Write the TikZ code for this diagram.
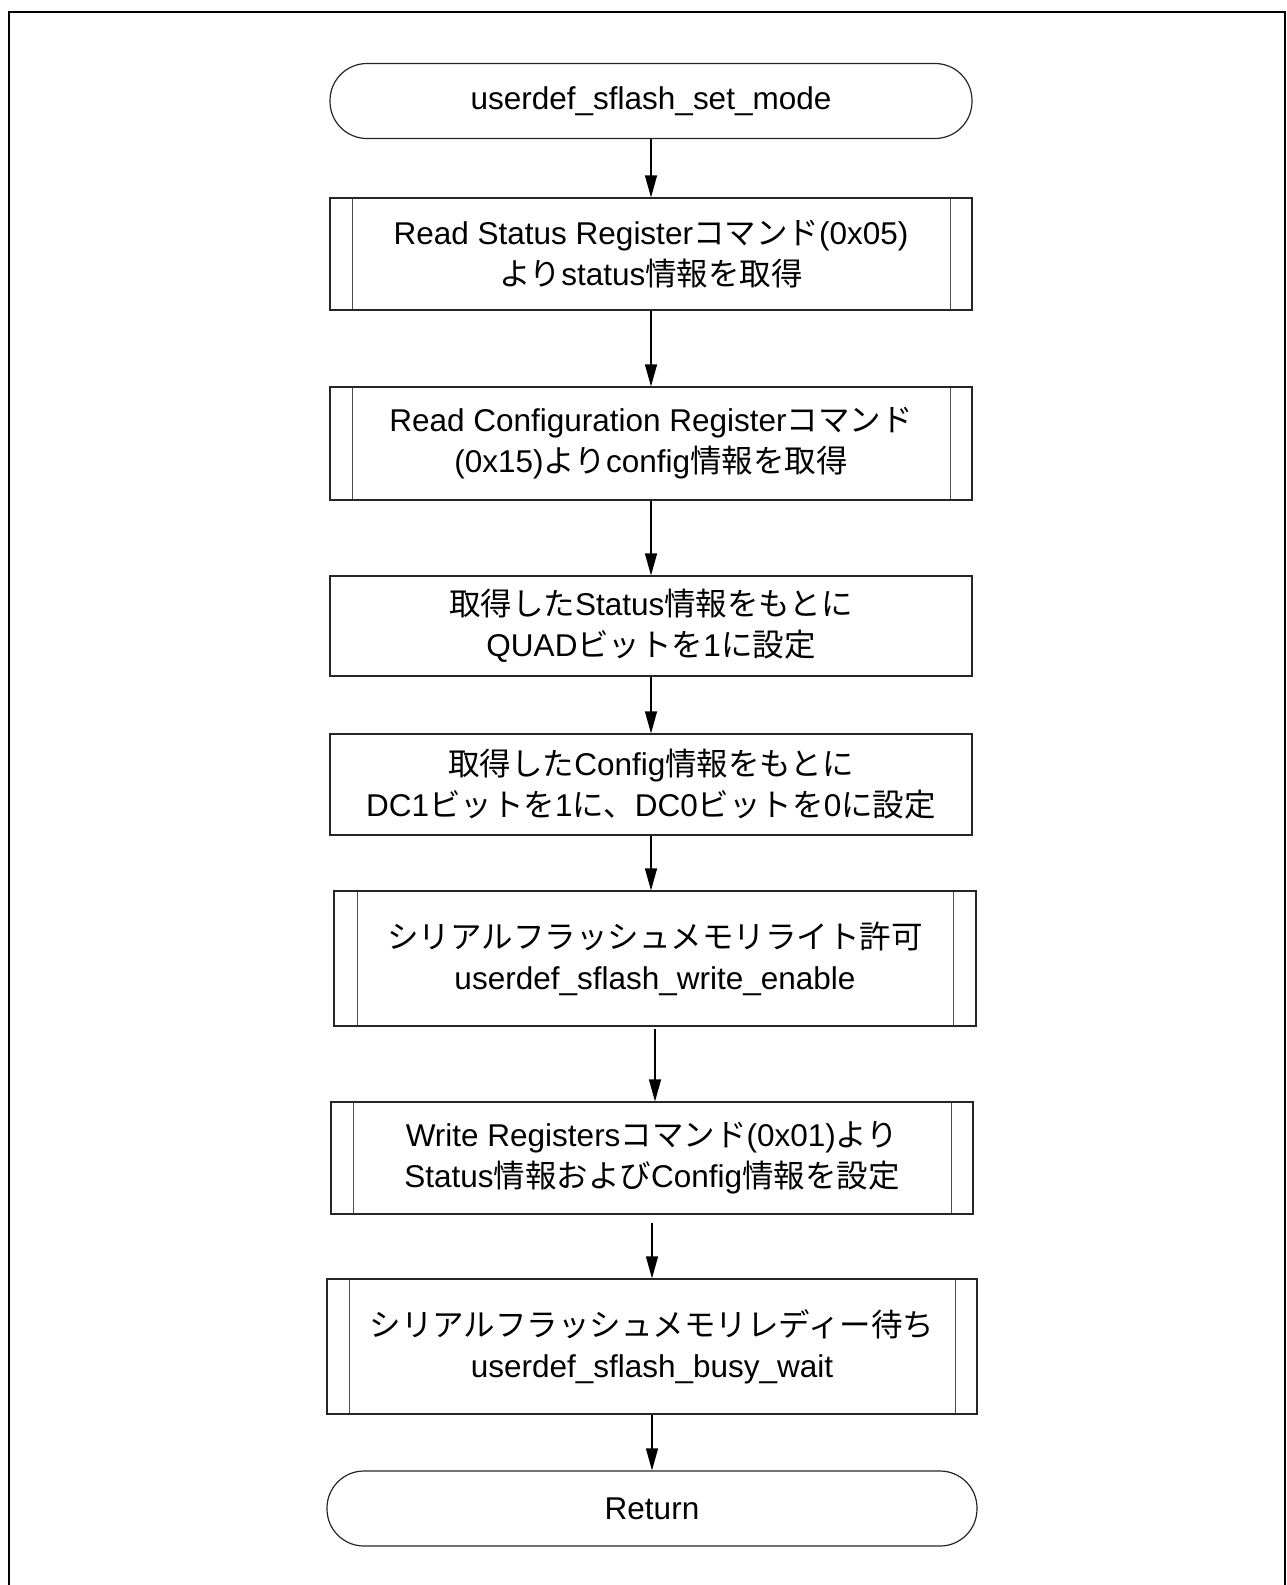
\documentclass[tikz,border=0pt]{standalone}
\usepackage{fontspec}
\setmainfont{Liberation Sans}
\newfontfamily\jp{Noto Sans CJK JP}
\usetikzlibrary{arrows.meta}
\tikzset{
  base/.style={draw=black!85, line width=1.2pt, align=center, inner sep=0pt,
    font=\fontsize{31.5}{41}\selectfont, minimum width=642pt},
  term/.style={base, rounded corners=37pt, minimum height=75pt},
  procbox/.style={base},
  subproc/.style={base, path picture={
      \draw[black!70, line width=0.9pt]
        ([xshift=#1]path picture bounding box.north west) -- ([xshift=#1]path picture bounding box.south west)
        ([xshift=-#1]path picture bounding box.north east) -- ([xshift=-#1]path picture bounding box.south east);}},
  subproc/.default=22pt,
  flow/.style={draw=black, line width=1.2pt, -{Triangle[length=22pt,width=12pt]}},
}
\begin{document}
\begin{tikzpicture}[x=1pt,y=-1pt]
\useasboundingbox (0,0) rectangle (1287,1585);
\draw[line width=2.5pt] (9,1590) -- (9,12) -- (1285,12) -- (1285,1590);

\node[term] (start) at (651,101) {userdef\_sflash\_set\_mode};
\node[subproc, minimum height=112pt] (b1) at (651,254)
  {Read Status Register{\jp コマンド}(0x05)\\{\jp より}status{\jp 情報を取得}};
\node[subproc, minimum height=113pt] (b2) at (651,443.5)
  {Read Configuration Register{\jp コマンド}\\(0x15){\jp より}config{\jp 情報を取得}};
\node[procbox, minimum height=100pt] (b3) at (651,626)
  {{\jp 取得した}Status{\jp 情報をもとに}\\QUAD{\jp ビットを}1{\jp に設定}};
\node[procbox, minimum height=101pt] (b4) at (651,784.5)
  {{\jp 取得した}Config{\jp 情報をもとに}\\DC1{\jp ビットを}1{\jp に、}DC0{\jp ビットを}0{\jp に設定}};
\node[subproc=23pt, minimum height=135pt] (b5) at (655,958.5)
  {{\jp シリアルフラッシュメモリライト許可}\\userdef\_sflash\_write\_enable};
\node[subproc, minimum height=112pt] (b6) at (652,1158)
  {Write Registers{\jp コマンド}(0x01){\jp より}\\Status{\jp 情報および}Config{\jp 情報を設定}};
\node[subproc, minimum height=135pt, minimum width=650pt] (b7) at (652,1346.5)
  {{\jp シリアルフラッシュメモリレディー待ち}\\userdef\_sflash\_busy\_wait};
\node[term, minimum width=650pt] (end) at (652,1508.5) {Return};

\draw[flow] (start.south) -- (start.south |- b1.north);
\draw[flow] (b1.south) -- (b1.south |- b2.north);
\draw[flow] (b2.south) -- (b2.south |- b3.north);
\draw[flow] (b3.south) -- (b3.south |- b4.north);
\draw[flow] (b4.south) -- (b4.south |- b5.north);
\draw[flow] ([yshift=-2pt]b5.south) -- (b5.south |- b6.north);
\draw[flow] ([yshift=-8pt]b6.south) -- (b6.south |- b7.north);
\draw[flow] (b7.south) -- (b7.south |- end.north);
\end{tikzpicture}
\end{document}
